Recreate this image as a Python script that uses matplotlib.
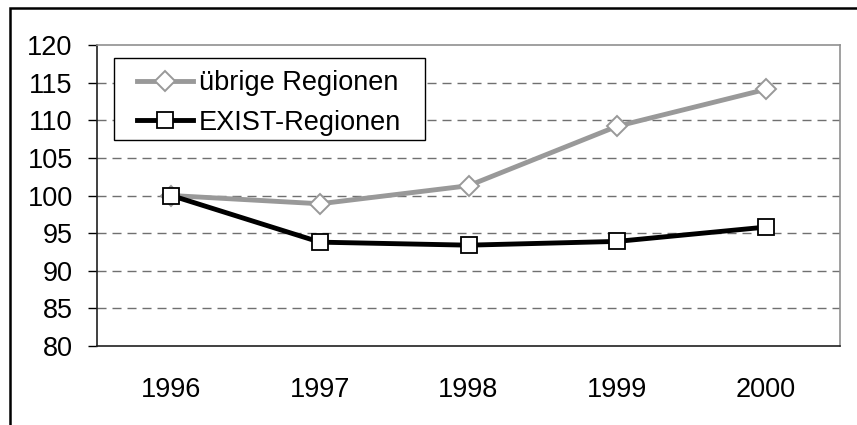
import matplotlib.pyplot as plt
from matplotlib.patches import Rectangle

plt.rcParams['font.family'] = ['Liberation Sans', 'DejaVu Sans']

years = ["1996", "1997", "1998", "1999", "2000"]
uebrige = [100.0, 98.9, 101.3, 109.2, 114.1]
exist = [100.0, 93.8, 93.4, 93.9, 95.8]
yticks = [80, 85, 90, 95, 100, 105, 110, 115, 120]

W, H = 857, 425
fig = plt.figure(figsize=(W / 100, H / 100), dpi=100)

# outer chart frame (only top and left edges are visible in the crop)
fig.add_artist(Rectangle((10 / W, -0.5), 2.0, (H - 8) / H + 0.5, transform=fig.transFigure,
                         fill=False, edgecolor="black", linewidth=1.8))

ax = fig.add_axes([97 / W, (H - 346) / H, 743 / W, 301 / H])
x = range(len(years))

ax.plot(x, uebrige, color="#999999", linewidth=3.5, marker="D", markersize=10,
        markerfacecolor="white", markeredgecolor="#999999", markeredgewidth=1.4,
        label="übrige Regionen", zorder=3)
ax.plot(x, exist, color="black", linewidth=3.5, marker="s", markersize=12,
        markerfacecolor="white", markeredgecolor="black", markeredgewidth=1.3,
        label="EXIST-Regionen", zorder=4)

ax.set_xlim(-0.5, 4.5)
ax.set_ylim(80, 120)
ax.set_yticks(yticks)
ax.set_xticks(list(x))
ax.set_xticklabels(years)
ax.tick_params(axis="y", direction="out", length=6.5, width=1, labelsize=19.5, pad=11)
ax.tick_params(axis="x", length=0, labelsize=19.5, pad=22)

for y in yticks[1:-1]:
    ax.axhline(y, color="#707070", linewidth=1, linestyle=(0, (6.5, 4.3)), zorder=1)

ax.spines["top"].set_color("#909090")
ax.spines["right"].set_color("#909090")
ax.spines["left"].set_color("#202020")
ax.spines["bottom"].set_color("#202020")
for s in ax.spines.values():
    s.set_linewidth(1.2)

# legend box drawn separately so its padding can follow the original
ax.add_patch(Rectangle((17 / 743, (346 - 140) / 301), 311 / 743, 82 / 301,
                       transform=ax.transAxes, facecolor="white", edgecolor="black",
                       linewidth=1, zorder=5))
leg = ax.legend(loc="upper left", bbox_to_anchor=(40 / 743, (346 - 70) / 301), fontsize=19.5,
                frameon=False, handlelength=2.05, handletextpad=0.23, borderpad=0,
                labelspacing=0.5, borderaxespad=0)
leg.set_zorder(6)

fig.savefig("out.png", dpi=100)
